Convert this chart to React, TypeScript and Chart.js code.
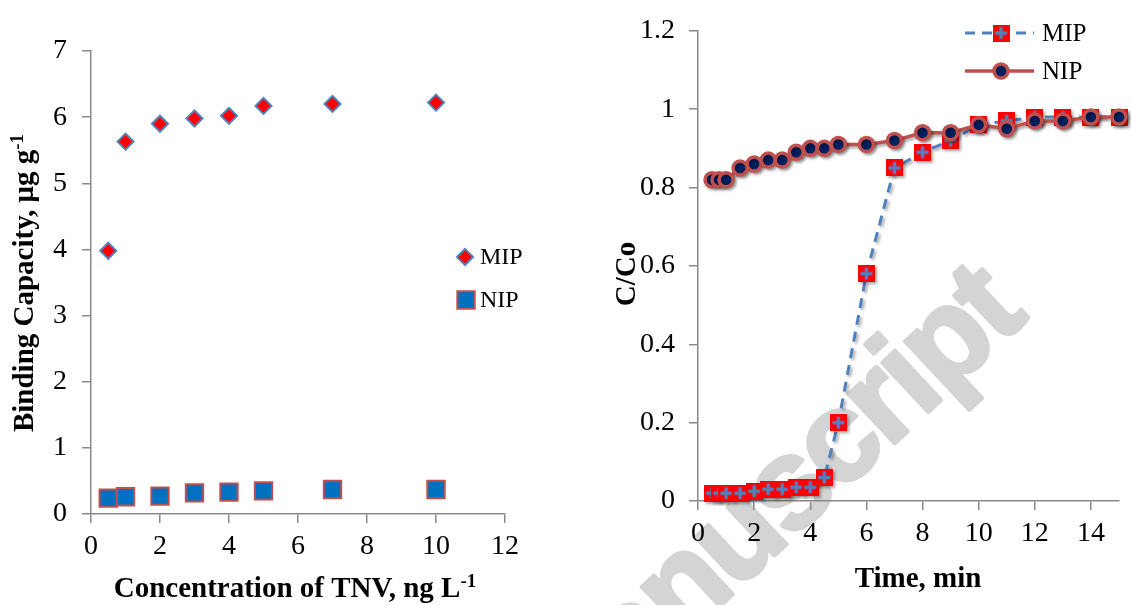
import React, { useEffect, useRef } from 'react';
import { Chart, registerables } from 'chart.js';

Chart.register(...registerables);

// ---------- Data (left chart: binding capacity) ----------
const concX = [0.5, 1, 2, 3, 4, 5, 7, 10];
const bindMIP = [3.98, 5.63, 5.9, 5.98, 6.02, 6.17, 6.2, 6.22];
const bindNIP = [0.24, 0.26, 0.27, 0.32, 0.33, 0.35, 0.37, 0.37];

// ---------- Data (right chart: breakthrough C/Co vs time) ----------
const timeX = [0.5, 0.75, 1, 1.5, 2, 2.5, 3, 3.5, 4, 4.5, 5, 6, 7, 8, 9, 10, 11, 12, 13, 14, 15];
const ccoMIP = [0.02, 0.02, 0.02, 0.02, 0.025, 0.03, 0.03, 0.035, 0.035, 0.06, 0.2, 0.58, 0.85, 0.89, 0.92, 0.96, 0.97, 0.98, 0.98, 0.98, 0.98];
const ccoNIP = [0.82, 0.82, 0.82, 0.85, 0.86, 0.87, 0.87, 0.89, 0.9, 0.9, 0.91, 0.91, 0.92, 0.94, 0.94, 0.96, 0.95, 0.97, 0.97, 0.98, 0.98];

const seriesLabels = ['MIP', 'NIP'];
const leftXTitle = 'Concentration of TNV, ng L';
const leftYTitle = 'Binding Capacity, μg g';
const rightXTitle = 'Time, min';
const rightYTitle = 'C/Co';
const supText = '-1';
const watermarkText = 'manuscript';

const SERIF = '"Liberation Serif", "Times New Roman", serif';
const AXIS_GRAY = '#898989';

function drawMarker(ctx: CanvasRenderingContext2D, ds: any, x: number, y: number) {
  const ps = ds.pointStyle;
  if (ps && typeof ps !== 'string') {
    ctx.drawImage(ps, x - ps.width / 2, y - ps.height / 2);
    return;
  }
  const r = ds.pointRadius;
  ctx.beginPath();
  if (ps === 'rectRot') {
    ctx.moveTo(x, y - r); ctx.lineTo(x + r, y); ctx.lineTo(x, y + r); ctx.lineTo(x - r, y); ctx.closePath();
  } else if (ps === 'rect') {
    const h = r * Math.SQRT1_2;
    ctx.rect(x - h, y - h, 2 * h, 2 * h);
  } else {
    ctx.arc(x, y, r, 0, Math.PI * 2);
  }
  ctx.fillStyle = ds.pointBackgroundColor ?? ds.backgroundColor;
  ctx.fill();
  ctx.lineWidth = ds.pointBorderWidth ?? ds.borderWidth;
  ctx.strokeStyle = ds.pointBorderColor ?? ds.borderColor;
  ctx.stroke();
}

type LegendItem = { idx: number; mx: number; my: number; tx: number; l1?: number; l2?: number };

function makeLegend(items: LegendItem[], fontSize: number) {
  return {
    id: 'customLegend',
    afterDraw(chart: any) {
      const ctx = chart.ctx as CanvasRenderingContext2D;
      for (const it of items) {
        const ds = chart.data.datasets[it.idx];
        ctx.save();
        if (it.l1 !== undefined && it.l2 !== undefined) {
          ctx.beginPath();
          ctx.setLineDash(ds.borderDash || []);
          ctx.strokeStyle = ds.borderColor;
          ctx.lineWidth = ds.borderWidth;
          ctx.moveTo(it.l1, it.my);
          ctx.lineTo(it.l2, it.my);
          ctx.stroke();
          ctx.setLineDash([]);
        }
        drawMarker(ctx, ds, it.mx, it.my);
        ctx.fillStyle = '#000';
        ctx.font = `${fontSize}px ${SERIF}`;
        ctx.textBaseline = 'middle';
        ctx.textAlign = 'left';
        ctx.fillText(ds.label, it.tx, it.my + 1);
        ctx.restore();
      }
    },
  };
}

type TitleItem = { text: string; sup?: string; x: number; y: number; rotate?: number; size: number };

function makeTitles(items: TitleItem[]) {
  return {
    id: 'axisTitles',
    afterDraw(chart: any) {
      const ctx = chart.ctx as CanvasRenderingContext2D;
      for (const t of items) {
        ctx.save();
        ctx.translate(t.x, t.y);
        if (t.rotate) ctx.rotate(t.rotate);
        const mainFont = `bold ${t.size}px ${SERIF}`;
        const supFont = `bold ${Math.round(t.size * 0.65)}px ${SERIF}`;
        ctx.font = mainFont;
        const w1 = ctx.measureText(t.text).width;
        let w2 = 0;
        if (t.sup) { ctx.font = supFont; w2 = ctx.measureText(t.sup).width; }
        const start = -(w1 + w2) / 2;
        ctx.fillStyle = '#000';
        ctx.textBaseline = 'alphabetic';
        ctx.textAlign = 'left';
        ctx.font = mainFont;
        ctx.fillText(t.text, start, 0);
        if (t.sup) { ctx.font = supFont; ctx.fillText(t.sup, start + w1, -t.size * 0.36); }
        ctx.restore();
      }
    },
  };
}

const watermarkPlugin = {
  id: 'watermark',
  beforeDraw(chart: any) {
    const ctx = chart.ctx as any;
    ctx.save();
    ctx.translate(-8, 763);
    ctx.rotate((-43 * Math.PI) / 180);
    ctx.font = 'bold 128px "Liberation Sans", Arial, sans-serif';
    ctx.letterSpacing = '-4px';
    ctx.fillStyle = '#d4d4d4';
    ctx.strokeStyle = '#d4d4d4';
    ctx.lineWidth = 4;
    ctx.lineJoin = 'round';
    ctx.textBaseline = 'alphabetic';
    ctx.strokeText(watermarkText, 0, 0);
    ctx.fillText(watermarkText, 0, 0);
    ctx.restore();
  },
};

const shadowPlugin = {
  id: 'markerShadow',
  beforeDatasetsDraw(chart: any) {
    const ctx = chart.ctx as CanvasRenderingContext2D;
    ctx.save();
    ctx.shadowColor = 'rgba(0,0,0,0.35)';
    ctx.shadowBlur = 3;
    ctx.shadowOffsetX = 2;
    ctx.shadowOffsetY = 2;
  },
  afterDatasetsDraw(chart: any) {
    chart.ctx.restore();
  },
};

function makeMipImage() {
  const c = document.createElement('canvas');
  c.width = 17; c.height = 17;
  const g = c.getContext('2d')!;
  g.fillStyle = '#ff0000';
  g.fillRect(0, 0, 17, 17);
  g.fillStyle = '#4f81bd';
  g.fillRect(2.5, 6.75, 12, 3.5);
  g.fillRect(6.75, 2.5, 3.5, 12);
  return c;
}

const fmt = (v: any) => String(parseFloat(Number(v).toFixed(2)));

function axisCommon(min: number, max: number, step: number, pad: number, fit: (s: any) => void, includeBounds = true) {
  return {
    type: 'linear' as const,
    min, max,
    ticks: { stepSize: step, color: '#000', font: { family: SERIF, size: 28 }, padding: pad, includeBounds, callback: fmt },
    grid: { display: true, drawOnChartArea: false, drawTicks: true, tickLength: 9, color: AXIS_GRAY, lineWidth: 1.5 },
    border: { display: true, color: AXIS_GRAY, width: 1.5 },
    afterFit: fit,
  };
}

export default function App() {
  const leftRef = useRef<HTMLCanvasElement>(null);
  const rightRef = useRef<HTMLCanvasElement>(null);

  useEffect(() => {
    const left = new Chart(leftRef.current!, {
      type: 'scatter',
      data: {
        datasets: [
          {
            label: seriesLabels[0],
            data: concX.map((x, i) => ({ x, y: bindMIP[i] })),
            pointStyle: 'rectRot', pointRadius: 8,
            backgroundColor: '#ff0000', borderColor: '#4f81bd', borderWidth: 2,
            clip: false,
          } as any,
          {
            label: seriesLabels[1],
            data: concX.map((x, i) => ({ x, y: bindNIP[i] })),
            pointStyle: 'rect', pointRadius: 12.3,
            backgroundColor: '#0070c0', borderColor: '#c0504d', borderWidth: 2,
            clip: false,
          } as any,
        ],
      },
      options: {
        responsive: false, animation: false, devicePixelRatio: 1,
        layout: { padding: { left: 0, top: 51, right: 55, bottom: 0 } },
        plugins: { legend: { display: false }, tooltip: { enabled: false } },
        scales: {
          x: axisCommon(0, 12, 2, 7, (s: any) => { s.height = 91; }) as any,
          y: axisCommon(0, 7, 1, 15, (s: any) => { s.width = 91; }) as any,
        },
      },
      plugins: [
        makeLegend([
          { idx: 0, mx: 465, my: 257, tx: 480 },
          { idx: 1, mx: 466, my: 300, tx: 480 },
        ], 24),
        makeTitles([
          { text: leftXTitle, sup: supText, x: 295, y: 597, size: 29 },
          { text: leftYTitle, sup: supText, x: 33, y: 283, rotate: -Math.PI / 2, size: 29 },
        ]),
      ],
    });

    const mipImg = makeMipImage();
    const right = new Chart(rightRef.current!, {
      type: 'scatter',
      data: {
        datasets: [
          {
            label: seriesLabels[0],
            data: timeX.map((x, i) => ({ x, y: ccoMIP[i] })),
            showLine: true, borderColor: '#4f81bd', borderWidth: 3, borderDash: [10, 7],
            pointStyle: mipImg, pointRadius: 9,
            order: 1, clip: false,
          } as any,
          {
            label: seriesLabels[1],
            data: timeX.map((x, i) => ({ x, y: ccoNIP[i] })),
            showLine: true, borderColor: '#c0504d', borderWidth: 3.5,
            pointStyle: 'circle', pointRadius: 7,
            pointBackgroundColor: '#002060', pointBorderColor: '#c0504d', pointBorderWidth: 3.5,
            order: 0, clip: false,
          } as any,
        ],
      },
      options: {
        responsive: false, animation: false, devicePixelRatio: 1,
        layout: { padding: { left: 0, top: 28, right: 10, bottom: 0 } },
        plugins: { legend: { display: false }, tooltip: { enabled: false } },
        scales: {
          x: axisCommon(0, 15, 2, 7, (s: any) => { s.height = 104; }, false) as any,
          y: axisCommon(0, 1.2, 0.2, 14, (s: any) => { s.width = 138; }) as any,
        },
      },
      plugins: [
        watermarkPlugin,
        shadowPlugin,
        makeLegend([
          { idx: 0, mx: 441, my: 33, tx: 482, l1: 405, l2: 474 },
          { idx: 1, mx: 441, my: 71, tx: 482, l1: 405, l2: 474 },
        ], 25),
        makeTitles([
          { text: rightXTitle, x: 358, y: 587, size: 29 },
          { text: rightYTitle, x: 75, y: 274, rotate: -Math.PI / 2, size: 29 },
        ]),
      ],
    });

    return () => { left.destroy(); right.destroy(); };
  }, []);

  return (
    <div style={{ position: 'fixed', left: 0, top: 0, width: 1131, height: 605, background: '#fff', overflow: 'hidden' }}>
      <canvas ref={leftRef} width={560} height={605} style={{ position: 'absolute', left: 0, top: 0, width: 560, height: 605 }} />
      <canvas ref={rightRef} width={571} height={605} style={{ position: 'absolute', left: 560, top: 0, width: 571, height: 605 }} />
    </div>
  );
}
